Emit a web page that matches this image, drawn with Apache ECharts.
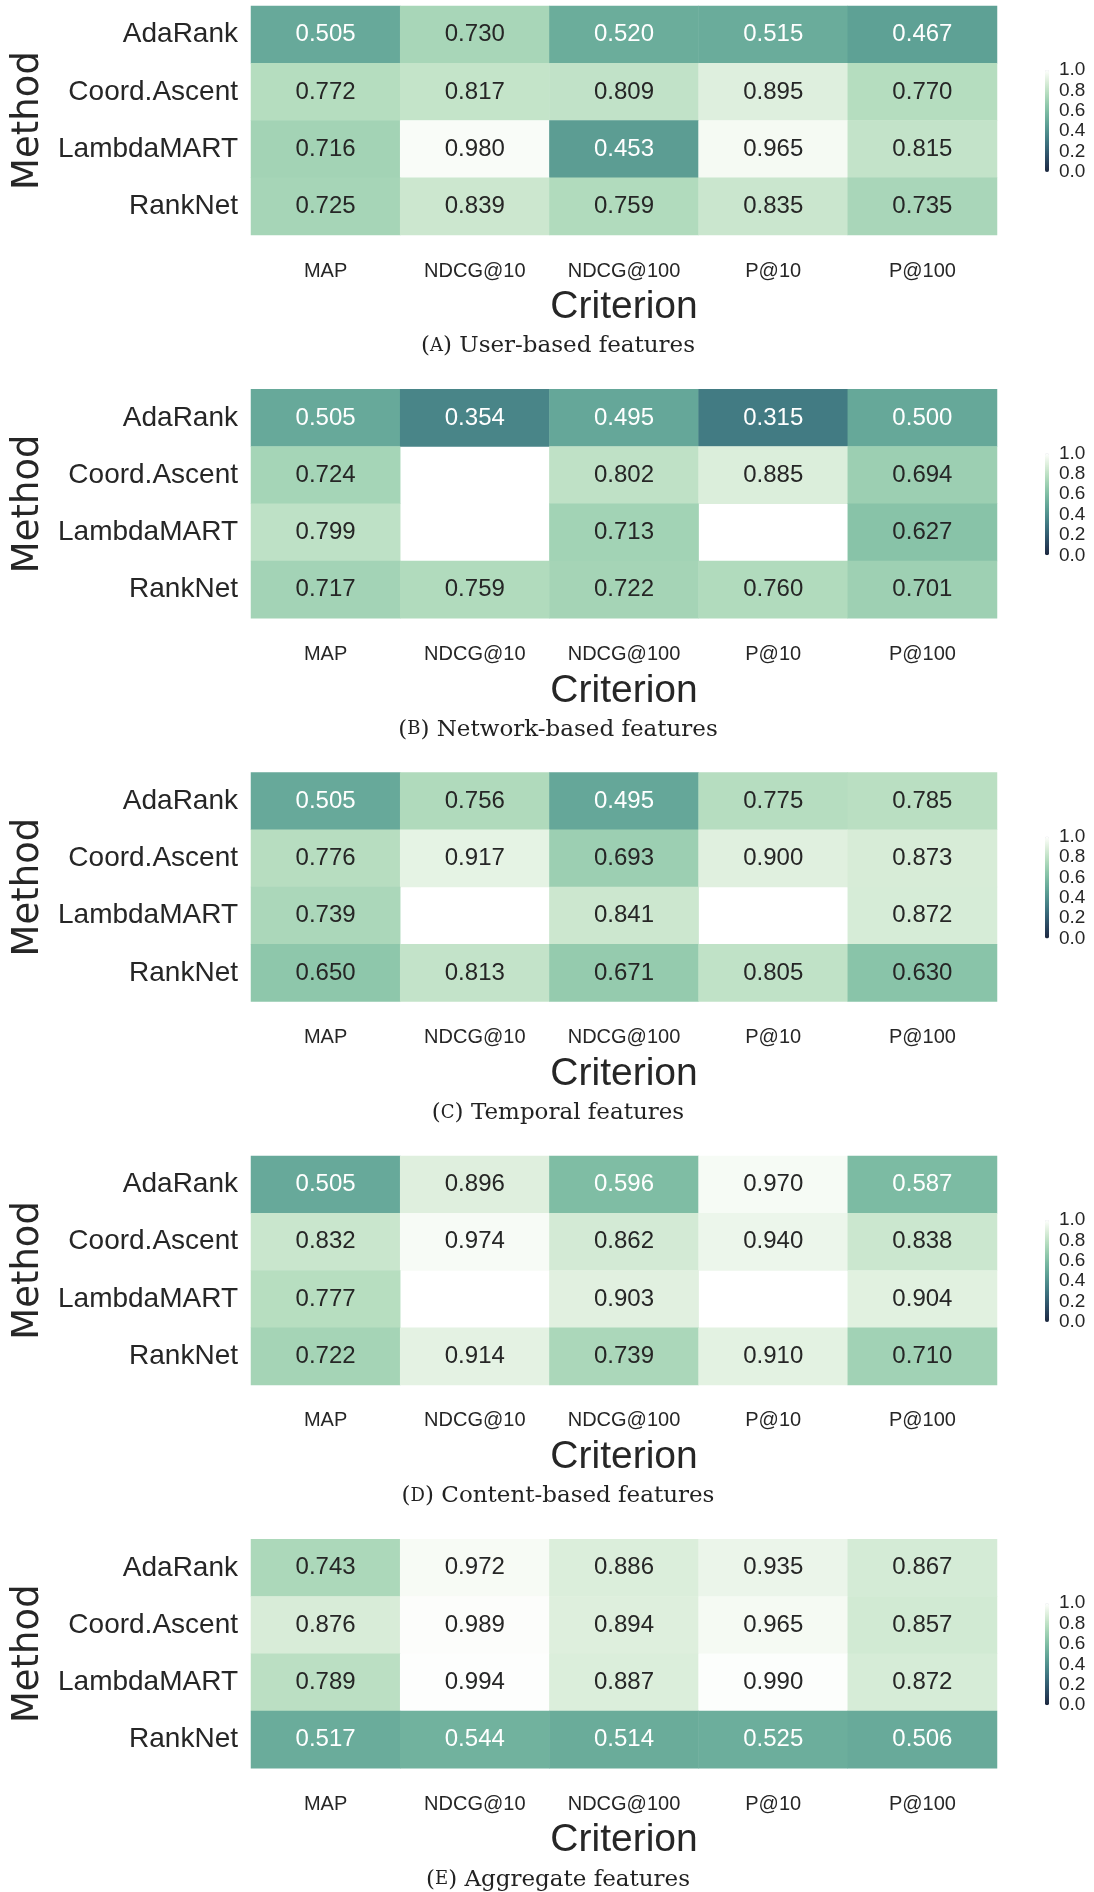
<!DOCTYPE html>
<html>
<head>
<meta charset="utf-8">
<script src="https://cdn.jsdelivr.net/npm/echarts@6/dist/echarts.min.js"></script>
<style>
  html, body { margin: 0; padding: 0; background: #ffffff; }
  #chart { width: 1094px; height: 1892px; }
</style>
</head>
<body>
<div id="chart"></div>
<script>
// Axis categories
const criteria = ['MAP', 'NDCG@10', 'NDCG@100', 'P@10', 'P@100'];
const methods = ['AdaRank', 'Coord.Ascent', 'LambdaMART', 'RankNet'];

// Scores per feature group: one row per method, one column per criterion (null = no result)
const userBased = [
  [0.505, 0.730, 0.520, 0.515, 0.467],
  [0.772, 0.817, 0.809, 0.895, 0.770],
  [0.716, 0.980, 0.453, 0.965, 0.815],
  [0.725, 0.839, 0.759, 0.835, 0.735]
];
const networkBased = [
  [0.505, 0.354, 0.495, 0.315, 0.500],
  [0.724, null, 0.802, 0.885, 0.694],
  [0.799, null, 0.713, null, 0.627],
  [0.717, 0.759, 0.722, 0.760, 0.701]
];
const temporal = [
  [0.505, 0.756, 0.495, 0.775, 0.785],
  [0.776, 0.917, 0.693, 0.900, 0.873],
  [0.739, null, 0.841, null, 0.872],
  [0.650, 0.813, 0.671, 0.805, 0.630]
];
const contentBased = [
  [0.505, 0.896, 0.596, 0.970, 0.587],
  [0.832, 0.974, 0.862, 0.940, 0.838],
  [0.777, null, 0.903, null, 0.904],
  [0.722, 0.914, 0.739, 0.910, 0.710]
];
const aggregate = [
  [0.743, 0.972, 0.886, 0.935, 0.867],
  [0.876, 0.989, 0.894, 0.965, 0.857],
  [0.789, 0.994, 0.887, 0.990, 0.872],
  [0.517, 0.544, 0.514, 0.525, 0.506]
];

// Sub-figure letters and captions
const panelLetters = ['A', 'B', 'C', 'D', 'E'];
const panelCaptions = ['User-based features', 'Network-based features', 'Temporal features',
                       'Content-based features', 'Aggregate features'];

const panels = [userBased, networkBased, temporal, contentBased, aggregate];

// Cubehelix colormap (dark navy -> teal -> near white)
function cubehelix(v) {
  const x = 0.15 + 0.85 * v;
  const start = 0, rot = -0.4, hue = 0.8;
  const phi = 2 * Math.PI * (start / 3 + rot * x);
  const a = hue * x * (1 - x) / 2;
  const c = Math.cos(phi), s = Math.sin(phi);
  const clamp = t => Math.round(Math.max(0, Math.min(1, t)) * 255);
  const r = clamp(x + a * (-0.14861 * c + 1.78277 * s));
  const g = clamp(x + a * (-0.29227 * c - 0.90649 * s));
  const b = clamp(x + a * (1.97294 * c));
  return 'rgb(' + r + ',' + g + ',' + b + ')';
}
const rampColors = [];
for (let i = 0; i <= 50; i++) rampColors.push(cubehelix(i / 50));

// Layout
const STEP = 383.3;
const HM_LEFT = 251, HM_WIDTH = 746, HM_TOP0 = 6, HM_HEIGHT = 229;
const CB_LEFT = 1045, CB_WIDTH = 4, CB_OFF = 64, CB_HEIGHT = 102;
const TEXT = '#262626';
const SANS = '"Liberation Sans", Arial, sans-serif';

const grid = [], xAxis = [], yAxis = [], series = [], visualMap = [], graphic = [];

panels.forEach((rows, p) => {
  const top = HM_TOP0 + STEP * p;

  // heatmap grid
  grid.push({ left: HM_LEFT, top: top, width: HM_WIDTH, height: HM_HEIGHT, outerBoundsMode: 'none' });
  xAxis.push({
    type: 'category', gridIndex: 2 * p, data: criteria, position: 'bottom',
    axisLine: { show: false }, axisTick: { show: false }, splitLine: { show: false },
    axisLabel: { interval: 0, margin: 26, fontSize: 20, color: TEXT, fontFamily: SANS },
    name: 'Criterion', nameLocation: 'middle', nameGap: 53,
    nameTextStyle: { fontSize: 39, color: TEXT, fontFamily: SANS }
  });
  yAxis.push({
    type: 'category', gridIndex: 2 * p, data: methods, inverse: true,
    axisLine: { show: false }, axisTick: { show: false }, splitLine: { show: false },
    axisLabel: { interval: 0, margin: 13, fontSize: 28, color: TEXT, fontFamily: SANS },
    name: 'Method', nameLocation: 'middle', nameRotate: 90, nameGap: 199,
    nameTextStyle: { fontSize: 37, color: TEXT, fontFamily: '"DejaVu Sans", sans-serif' }
  });

  // colorbar tick axis
  grid.push({ left: CB_LEFT, top: top + CB_OFF, width: CB_WIDTH, height: CB_HEIGHT, outerBoundsMode: 'none' });
  xAxis.push({ type: 'value', gridIndex: 2 * p + 1, show: false, min: 0, max: 1 });
  yAxis.push({
    type: 'value', gridIndex: 2 * p + 1, position: 'right', min: 0, max: 1, interval: 0.2,
    axisLine: { show: false }, axisTick: { show: false }, splitLine: { show: false },
    axisLabel: { margin: 10, fontSize: 19, color: TEXT, fontFamily: SANS,
                 formatter: v => v.toFixed(1) }
  });

  const data = [];
  rows.forEach((vals, yi) => {
    vals.forEach((v, xi) => {
      if (v === null) return;
      data.push({
        value: [xi, yi, v],
        label: { color: v < 0.6 ? '#ffffff' : TEXT }
      });
    });
  });

  series.push({
    type: 'heatmap', xAxisIndex: 2 * p, yAxisIndex: 2 * p,
    data: data,
    label: { show: true, fontSize: 24, fontFamily: SANS,
             formatter: prm => prm.value[2].toFixed(3) },
    itemStyle: { borderWidth: 0 },
    emphasis: { disabled: true }
  });

  visualMap.push({
    type: 'continuous', seriesIndex: p, min: 0, max: 1, dimension: 2,
    calculable: false, hoverLink: false, realtime: false,
    left: CB_LEFT, top: top + CB_OFF, padding: 0,
    itemWidth: CB_WIDTH, itemHeight: CB_HEIGHT,
    inRange: { color: rampColors },
    textStyle: { color: TEXT }
  });

  graphic.push({
    type: 'text', x: 558, y: top + 340.5,
    style: {
      text: '({sc|' + panelLetters[p] + '}) ' + panelCaptions[p],
      textAlign: 'center', textVerticalAlign: 'middle',
      fontSize: 23, fontFamily: '"DejaVu Serif", serif', fill: '#222222',
      rich: { sc: { fontSize: 18, fontFamily: '"DejaVu Serif", serif', fill: '#222222' } }
    }
  });
});

const chart = echarts.init(document.getElementById('chart'), null, { renderer: 'canvas' });
chart.setOption({
  backgroundColor: '#ffffff',
  animation: false,
  grid, xAxis, yAxis, series, visualMap, graphic
});
</script>
</body>
</html>
